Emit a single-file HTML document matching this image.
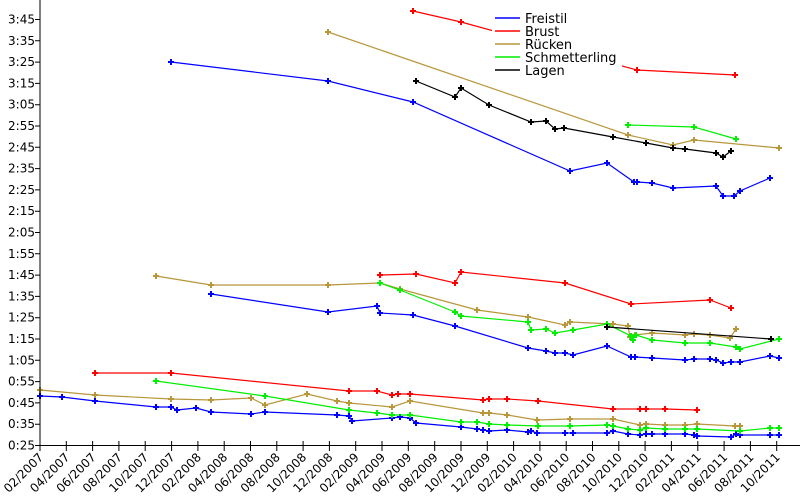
<!DOCTYPE html>
<html><head><meta charset="utf-8"><style>body{margin:0;background:#fff}svg{display:block}</style></head>
<body>
<svg width="800" height="500" xmlns="http://www.w3.org/2000/svg" font-family="DejaVu Sans, Liberation Sans, sans-serif" font-size="12">
<defs>
<marker id="mb" markerWidth="7" markerHeight="7" refX="3.5" refY="3.5" markerUnits="userSpaceOnUse"><path d="M3.5 0.5V6.5M0.5 3.5H6.5" stroke="#0000ff" stroke-width="2"/></marker>
<marker id="mr" markerWidth="7" markerHeight="7" refX="3.5" refY="3.5" markerUnits="userSpaceOnUse"><path d="M3.5 0.5V6.5M0.5 3.5H6.5" stroke="#ff0000" stroke-width="2"/></marker>
<marker id="my" markerWidth="7" markerHeight="7" refX="3.5" refY="3.5" markerUnits="userSpaceOnUse"><path d="M3.5 0.5V6.5M0.5 3.5H6.5" stroke="#b8963a" stroke-width="2"/></marker>
<marker id="mg" markerWidth="7" markerHeight="7" refX="3.5" refY="3.5" markerUnits="userSpaceOnUse"><path d="M3.5 0.5V6.5M0.5 3.5H6.5" stroke="#00ee00" stroke-width="2"/></marker>
<marker id="mk" markerWidth="7" markerHeight="7" refX="3.5" refY="3.5" markerUnits="userSpaceOnUse"><path d="M3.5 0.5V6.5M0.5 3.5H6.5" stroke="#000" stroke-width="2"/></marker>
</defs>
<g fill="none" stroke-width="1.2">
<polyline stroke="#0000ff" marker-start="url(#mb)" marker-mid="url(#mb)" marker-end="url(#mb)" points="171,62 328,81 413,102 570,171 607,163 634,182 637,182 652,183 673,188 716,186 723,196 734,196 740,191 770,178"/>
<polyline stroke="#0000ff" marker-start="url(#mb)" marker-mid="url(#mb)" marker-end="url(#mb)" points="211,294 328,312 377,306 380,313 413,315 455,326 528,348 546,351 555,353 565,353 573,355 607,346 631,357 635,357 652,358 685,360 694,359 710,359 716,360 723,363 731,362 740,362 770,356 779,358"/>
<polyline stroke="#0000ff" marker-start="url(#mb)" marker-mid="url(#mb)" marker-end="url(#mb)" points="40,396 62,397 95,401 156,407 171,407 177,410 196,408 211,412 251,414 265,412 337,415 349,416 352,421 392,418 400,417 410,418 416,423 461,427 477,429 483,430 489,431 507,430 528,432 531,431 537,433 565,433 573,433 607,433 613,431 628,434 640,435 646,434 652,434 665,434 685,434 694,435 697,436 731,437 736,434 740,435 770,435 779,435"/>
<polyline stroke="#ff0000" marker-start="url(#mr)" marker-mid="url(#mr)" marker-end="url(#mr)" points="413,11 461,22 637,70 735,75"/>
<polyline stroke="#ff0000" marker-start="url(#mr)" marker-mid="url(#mr)" marker-end="url(#mr)" points="380,275 416,274 455,283 461,272 565,283 631,304 710,300 731,308"/>
<polyline stroke="#ff0000" marker-start="url(#mr)" marker-mid="url(#mr)" marker-end="url(#mr)" points="95,373 171,373 349,391 377,391 392,395 398,394 410,394 483,400 489,399 507,399 538,401 613,409 640,409 646,409 665,409 697,410"/>
<polyline stroke="#b8963a" marker-start="url(#my)" marker-mid="url(#my)" marker-end="url(#my)" points="328,32 628,135 673,145 694,140 779,148"/>
<polyline stroke="#b8963a" marker-start="url(#my)" marker-mid="url(#my)" marker-end="url(#my)" points="156,276 211,285 328,285 380,283 400,289 477,310 528,317 565,325 570,322 613,324 628,326 630,337 635,335 652,333 685,335 694,334 710,335 730,338 736,329"/>
<polyline stroke="#b8963a" marker-start="url(#my)" marker-mid="url(#my)" marker-end="url(#my)" points="40,390 95,395 171,399 211,400 251,398 265,405 307,394 337,401 349,403 392,407 410,401 483,413 489,413 507,415 537,420 570,419 613,419 640,425 646,424 665,425 685,425 697,424 735,426 740,426"/>
<polyline stroke="#00ee00" marker-start="url(#mg)" marker-mid="url(#mg)" marker-end="url(#mg)" points="628,125 694,127 736,139"/>
<polyline stroke="#00ee00" marker-start="url(#mg)" marker-mid="url(#mg)" marker-end="url(#mg)" points="380,283 400,290 455,312 461,316 528,322 531,330 546,329 555,333 573,330 607,324 631,336 633,340 636,335 652,340 685,343 710,343 736,347 740,349 779,339"/>
<polyline stroke="#00ee00" marker-start="url(#mg)" marker-mid="url(#mg)" marker-end="url(#mg)" points="156,381 265,396 349,410 377,413 392,415 410,415 461,422 477,422 489,424 507,425 538,426 570,426 607,425 613,426 628,429 640,430 646,428 665,429 685,429 697,429 740,431 770,428 779,428"/>
<polyline stroke="#000" marker-start="url(#mk)" marker-mid="url(#mk)" marker-end="url(#mk)" points="416,81 455,97 461,88 489,105 531,122 546,121 555,129 564,128 613,137 646,143 673,148 685,149 716,153 723,157 731,151"/>
<polyline stroke="#000" marker-start="url(#mk)" marker-end="url(#mk)" points="607,327 771,339"/>
</g>
<rect x="492" y="9" width="130" height="68" fill="#fff"/>
<g stroke-width="1.5">
<line x1="495" y1="18" x2="520" y2="18" stroke="#0000ff"/>
<line x1="495" y1="31" x2="520" y2="31" stroke="#ff0000"/>
<line x1="495" y1="44" x2="520" y2="44" stroke="#b8963a"/>
<line x1="495" y1="57" x2="520" y2="57" stroke="#00ee00"/>
<line x1="495" y1="70" x2="520" y2="70" stroke="#000"/>
</g>
<g font-size="13" fill="#000">
<text x="525" y="23">Freistil</text>
<text x="525" y="36">Brust</text>
<text x="525" y="49">Rücken</text>
<text x="525" y="62">Schmetterling</text>
<text x="525" y="75">Lagen</text>
</g>
<g stroke="#000" stroke-width="1" fill="none">
<line x1="40" y1="0" x2="40" y2="445.5"/>
<line x1="40" y1="445.5" x2="800" y2="445.5"/>
<path d="M35 19.5H40M35 40.8H40M35 62.1H40M35 83.4H40M35 104.7H40M35 126H40M35 147.3H40M35 168.6H40M35 189.9H40M35 211.2H40M35 232.5H40M35 253.8H40M35 275.1H40M35 296.4H40M35 317.7H40M35 339H40M35 360.3H40M35 381.6H40M35 402.9H40M35 424.2H40M35 445.5H40"/>
<path d="M40 441V451M66.3 441V451M92.6 441V451M118.9 441V451M145.2 441V451M171.6 441V451M197.9 441V451M224.2 441V451M250.5 441V451M276.8 441V451M303.1 441V451M329.4 441V451M355.7 441V451M382 441V451M408.3 441V451M434.7 441V451M461 441V451M487.3 441V451M513.6 441V451M539.9 441V451M566.2 441V451M592.5 441V451M618.8 441V451M645.1 441V451M671.4 441V451M697.8 441V451M724.1 441V451M750.4 441V451M776.7 441V451"/>
</g>
<g text-anchor="end" fill="#000">
<text x="35" y="23.5">3:45</text><text x="35" y="44.8">3:35</text><text x="35" y="66.1">3:25</text><text x="35" y="87.4">3:15</text><text x="35" y="108.7">3:05</text><text x="35" y="130">2:55</text><text x="35" y="151.3">2:45</text><text x="35" y="172.6">2:35</text><text x="35" y="193.9">2:25</text><text x="35" y="215.2">2:15</text><text x="35" y="236.5">2:05</text><text x="35" y="257.8">1:55</text><text x="35" y="279.1">1:45</text><text x="35" y="300.4">1:35</text><text x="35" y="321.7">1:25</text><text x="35" y="343">1:15</text><text x="35" y="364.3">1:05</text><text x="35" y="385.6">0:55</text><text x="35" y="406.9">0:45</text><text x="35" y="428.2">0:35</text><text x="35" y="449.5">0:25</text>
</g>
<g text-anchor="end" fill="#000">
<text transform="translate(44,458) rotate(-45)">02/2007</text>
<text transform="translate(70.3,458) rotate(-45)">04/2007</text>
<text transform="translate(96.6,458) rotate(-45)">06/2007</text>
<text transform="translate(122.9,458) rotate(-45)">08/2007</text>
<text transform="translate(149.2,458) rotate(-45)">10/2007</text>
<text transform="translate(175.6,458) rotate(-45)">12/2007</text>
<text transform="translate(201.9,458) rotate(-45)">02/2008</text>
<text transform="translate(228.2,458) rotate(-45)">04/2008</text>
<text transform="translate(254.5,458) rotate(-45)">06/2008</text>
<text transform="translate(280.8,458) rotate(-45)">08/2008</text>
<text transform="translate(307.1,458) rotate(-45)">10/2008</text>
<text transform="translate(333.4,458) rotate(-45)">12/2008</text>
<text transform="translate(359.7,458) rotate(-45)">02/2009</text>
<text transform="translate(386,458) rotate(-45)">04/2009</text>
<text transform="translate(412.3,458) rotate(-45)">06/2009</text>
<text transform="translate(438.7,458) rotate(-45)">08/2009</text>
<text transform="translate(465,458) rotate(-45)">10/2009</text>
<text transform="translate(491.3,458) rotate(-45)">12/2009</text>
<text transform="translate(517.6,458) rotate(-45)">02/2010</text>
<text transform="translate(543.9,458) rotate(-45)">04/2010</text>
<text transform="translate(570.2,458) rotate(-45)">06/2010</text>
<text transform="translate(596.5,458) rotate(-45)">08/2010</text>
<text transform="translate(622.8,458) rotate(-45)">10/2010</text>
<text transform="translate(649.1,458) rotate(-45)">12/2010</text>
<text transform="translate(675.4,458) rotate(-45)">02/2011</text>
<text transform="translate(701.8,458) rotate(-45)">04/2011</text>
<text transform="translate(728.1,458) rotate(-45)">06/2011</text>
<text transform="translate(754.4,458) rotate(-45)">08/2011</text>
<text transform="translate(780.7,458) rotate(-45)">10/2011</text>
</g>
</svg>
</body></html>
